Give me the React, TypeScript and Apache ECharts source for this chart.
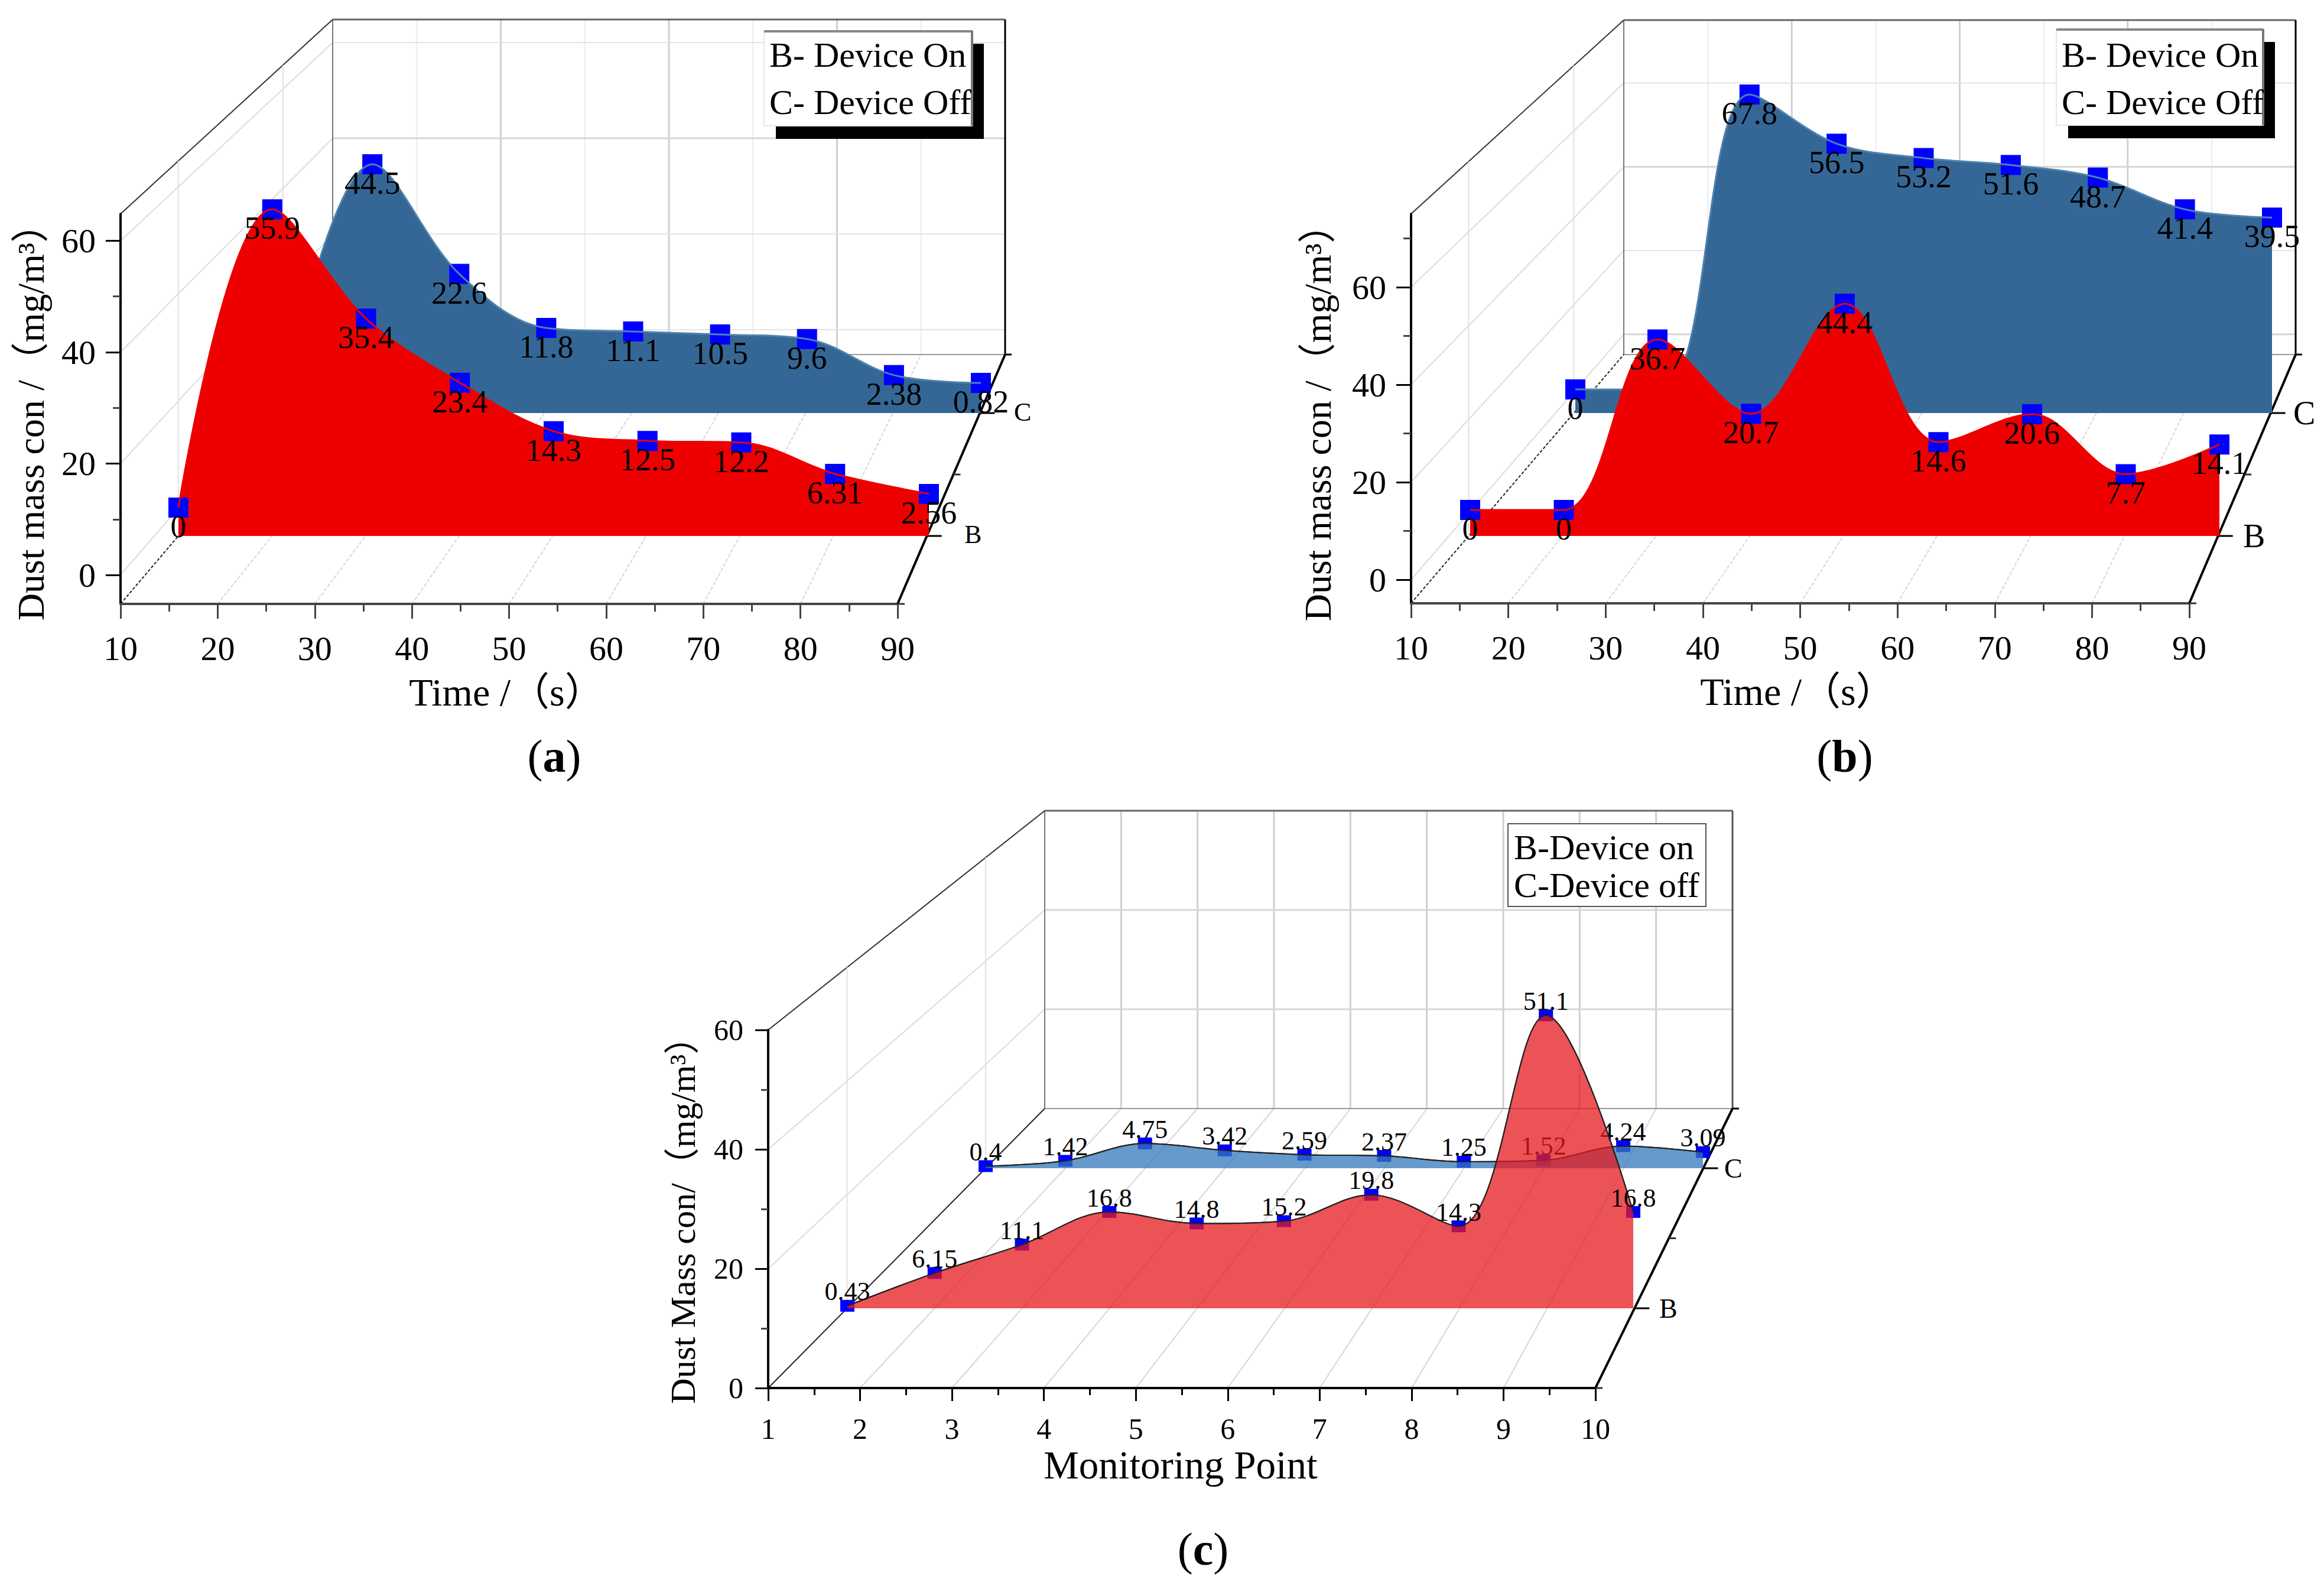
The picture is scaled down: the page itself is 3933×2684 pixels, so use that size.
import React, { useEffect, useRef } from "react";
import * as echarts from "echarts";

const TIME = [10, 20, 30, 40, 50, 60, 70, 80, 90];
const POINTS = [1, 2, 3, 4, 5, 6, 7, 8, 9, 10];
const A_ON = [0, 55.9, 35.4, 23.4, 14.3, 12.5, 12.2, 6.31, 2.56];
const A_OFF = [0, 44.5, 22.6, 11.8, 11.1, 10.5, 9.6, 2.38, 0.82];
const B_ON = [0, 0, 36.7, 20.7, 44.4, 14.6, 20.6, 7.7, 14.1];
const B_OFF = [0, 0, 67.8, 56.5, 53.2, 51.6, 48.7, 41.4, 39.5];
const C_ON = [0.43, 6.15, 11.1, 16.8, 14.8, 15.2, 19.8, 14.3, 51.1, 16.8];
const C_OFF = [0.4, 1.42, 4.75, 3.42, 2.59, 2.37, 1.25, 1.52, 4.24, 3.09];
const DEPTH_LABELS = ["B", "C"];
const FONT = '"Liberation Serif", "Noto Sans CJK SC", serif';

type Plane = { left: number; right: number; base: number; zero: number; unit: number };
type Panel = {
  xs: number[]; on: number[]; off: number[]; hiddenOff: number[];
  xMin: number; xMax: number; xStep: number;
  front: { left: number; right: number; bottom: number; top: number; zero: number; unit: number };
  back: { left: number; right: number; bottom: number; top: number };
  planeB: Plane; planeC: Plane;
  majors: number[]; minors: number[]; strongX: number[]; strongY: number[];
  yName: string; xName: string; yNameGap: number; xNameGap: number; yPad: number; xPad: number;
  labelFont: number; nameFont: number; xNameFont: number; valueFont: number; valueOffset: number; marker: number[];
  onColor: string; offColor: string; lineOn: string; lineOff: string; symbolsUnder: boolean;
  legend: { x: number; y: number; w: number; h: number; shadow: boolean; lines: string[]; tx: number; ty: number[]; };
  caption: { x: number; y: number; letter: string };
  depthFont: number; depthText: number[][]; axisColor: string; tickLong: number; tickShort: number; yMargin: number; xMargin: number;
};

const PANELS: Panel[] = [
  {
    xs: TIME, on: A_ON, off: A_OFF, hiddenOff: [0], xMin: 10, xMax: 90, xStep: 10,
    front: { left: 204, right: 1519, bottom: 1022, top: 362, zero: 973, unit: 9.425 },
    back: { left: 563, right: 1701, bottom: 600, top: 33 },
    planeB: { left: 302, right: 1572, base: 907, zero: 859, unit: 9.03 },
    planeC: { left: 483, right: 1660, base: 699, zero: 655, unit: 8.47 },
    majors: [0, 20, 40, 60], minors: [10, 30, 50], strongX: [30, 50, 70], strongY: [40],
    yName: "Dust mass con /（mg/m³）", xName: "Time /（s）", yNameGap: 120, xNameGap: 116, yPad: 13, xPad: 9,
    labelFont: 58, nameFont: 64, xNameFont: 66, valueFont: 54, valueOffset: 32, marker: [34, 34],
    onColor: "#ee0000", offColor: "#356796", lineOn: "#ee0000", lineOff: "#4f82ad", symbolsUnder: false,
    legend: { x: 1293, y: 52, w: 352, h: 161, shadow: true, lines: ["B- Device On", "C- Device Off"], tx: 1302, ty: [93, 173] },
    caption: { x: 938, y: 1279, letter: "a" },
    depthFont: 44, depthText: [[1632, 904], [1716, 697]], axisColor: "#444", tickLong: 25, tickShort: 13, yMargin: 42, xMargin: 46,
  },
  {
    xs: TIME, on: B_ON, off: B_OFF, hiddenOff: [1], xMin: 10, xMax: 90, xStep: 10,
    front: { left: 2388, right: 3705, bottom: 1021, top: 362, zero: 981, unit: 8.25 },
    back: { left: 2748, right: 3885, bottom: 600, top: 34 },
    planeB: { left: 2488, right: 3756, base: 907, zero: 863, unit: 7.86 },
    planeC: { left: 2666, right: 3845, base: 699, zero: 659, unit: 7.36 },
    majors: [0, 20, 40, 60], minors: [10, 30, 50, 70], strongX: [30, 50, 70], strongY: [0, 40],
    yName: "Dust mass con /（mg/m³）", xName: "Time /（s）", yNameGap: 126, xNameGap: 116, yPad: 16, xPad: 9,
    labelFont: 58, nameFont: 64, xNameFont: 66, valueFont: 54, valueOffset: 32, marker: [34, 34],
    onColor: "#ee0000", offColor: "#356796", lineOn: "#ee0000", lineOff: "#4f82ad", symbolsUnder: false,
    legend: { x: 3480, y: 49, w: 350, h: 163, shadow: true, lines: ["B- Device On", "C- Device Off"], tx: 3489, ty: [93, 173] },
    caption: { x: 3122, y: 1279, letter: "b" },
    depthFont: 56, depthText: [[3796, 907], [3881, 699]], axisColor: "#444", tickLong: 25, tickShort: 13, yMargin: 42, xMargin: 46,
  },
  {
    xs: POINTS, on: C_ON, off: C_OFF, hiddenOff: [], xMin: 1, xMax: 10, xStep: 1,
    front: { left: 1300, right: 2700, bottom: 2349, top: 1743, zero: 2349, unit: 10.1 },
    back: { left: 1768, right: 2932, bottom: 1876, top: 1372 },
    planeB: { left: 1434, right: 2764, base: 2214, zero: 2214, unit: 9.7 },
    planeC: { left: 1668, right: 2882, base: 1977, zero: 1977, unit: 8.83 },
    majors: [0, 20, 40, 60], minors: [10, 30, 50], strongX: [], strongY: [],
    yName: "Dust Mass con/（mg/m³）", xName: "Monitoring Point", yNameGap: 114, xNameGap: 96, yPad: 8, xPad: 4,
    labelFont: 50, nameFont: 60, xNameFont: 67, valueFont: 44, valueOffset: -24, marker: [24, 20],
    onColor: "rgba(230,25,30,0.75)", offColor: "rgba(51,119,187,0.75)", lineOn: "#222", lineOff: "#222", symbolsUnder: true,
    legend: { x: 2552, y: 1394, w: 335, h: 140, shadow: false, lines: ["B-Device on", "C-Device off"], tx: 2562, ty: [1434, 1498] },
    caption: { x: 2036, y: 2621, letter: "c" },
    depthFont: 46, depthText: [[2808, 2214], [2918, 1977]], axisColor: "#000", tickLong: 22, tickShort: 12, yMargin: 42, xMargin: 44,
  },
];

function buildOption() {
  const grid: any[] = [], xAxis: any[] = [], yAxis: any[] = [], series: any[] = [], elements: any[] = [];
  const line = (x1: number, y1: number, x2: number, y2: number, stroke: string, lineWidth: number, z = 0, lineDash?: number[]) =>
    elements.push({ type: "line", silent: true, z, shape: { x1, y1, x2, y2 }, style: { stroke, lineWidth, lineDash } });
  const text = (x: number, y: number, t: string, fontSize: number, z = 1, textAlign = "left", fill = "#000") =>
    elements.push({ type: "text", silent: true, z, x, y, style: { text: t, fontSize, fontFamily: FONT, fill, textAlign, textVerticalAlign: "middle" } });

  PANELS.forEach((p) => {
    const f = p.front, b = p.back;
    const yMin = (f.zero - f.bottom) / f.unit;
    const yMax = (f.zero - f.top) / f.unit;
    const g = grid.length;
    grid.push({ left: f.left, top: f.top, width: f.right - f.left, height: f.bottom - f.top });
    xAxis.push({
      type: "value", gridIndex: g, min: p.xMin, max: p.xMax, interval: p.xStep, position: "bottom", splitLine: { show: false },
      name: p.xName, nameLocation: "middle", nameGap: p.xNameGap,
      nameTextStyle: { fontFamily: FONT, fontSize: p.xNameFont, color: "#000", padding: [0, p.xPad, 0, 0] },
      axisLine: { show: true, onZero: false, lineStyle: { color: p.axisColor, width: 4 } },
      axisTick: { show: true, inside: false, length: p.tickLong, lineStyle: { color: p.axisColor, width: 3 } },
      minorTick: { show: true, splitNumber: 2, length: p.tickShort, lineStyle: { color: p.axisColor, width: 3 } },
      axisLabel: { show: true, fontFamily: FONT, fontSize: p.labelFont, color: "#000", margin: p.xMargin, hideOverlap: false },
    });
    const yi = yAxis.length;
    yAxis.push({
      type: "value", gridIndex: g, min: yMin, max: yMax, position: "left", splitLine: { show: false },
      name: p.yName, nameLocation: "middle", nameGap: p.yNameGap, nameRotate: 90,
      nameTextStyle: { fontFamily: FONT, fontSize: p.nameFont, color: "#000", padding: [0, p.yPad, 0, 0] },
      axisLine: { show: true, onZero: false, lineStyle: { color: "#000", width: 4 } },
      axisTick: { show: true, length: p.tickLong, customValues: p.majors, lineStyle: { color: "#000", width: 3 } },
      axisLabel: { show: true, customValues: p.majors, fontFamily: FONT, fontSize: p.labelFont, color: "#000", margin: p.yMargin, showMinLabel: true, showMaxLabel: true },
    });
    yAxis.push({
      type: "value", gridIndex: g, min: yMin, max: yMax, position: "left", splitLine: { show: false },
      axisLine: { show: false, onZero: false },
      axisTick: { show: true, length: p.tickShort, customValues: p.minors, lineStyle: { color: "#444", width: 3 } },
      axisLabel: { show: false },
    });
    series.push({ type: "line", xAxisIndex: xAxis.length - 1, yAxisIndex: yi, data: [], silent: true });

    const bx = (v: number) => b.left + ((v - p.xMin) / (p.xMax - p.xMin)) * (b.right - b.left);
    const by = (v: number) => b.bottom - ((v - yMin) / (yMax - yMin)) * (b.bottom - b.top);
    const fx = (v: number) => f.left + ((v - p.xMin) / (p.xMax - p.xMin)) * (f.right - f.left);
    const fy = (v: number) => f.bottom - ((v - yMin) / (yMax - yMin)) * (f.bottom - f.top);
    const faint = p.symbolsUnder ? "#d4d4d4" : "#ececec";
    for (let v = p.xMin + p.xStep; v < p.xMax; v += p.xStep) {
      const strong = p.symbolsUnder || p.strongX.includes(v);
      line(bx(v), b.top, bx(v), b.bottom, strong ? "#cfcfcf" : faint, strong ? 3 : 2);
      line(fx(v), f.bottom, bx(v), b.bottom, "#d6d6d6", 2, 0, p.symbolsUnder ? undefined : [6, 3]);
    }
    p.majors.forEach((v) => {
      if (v <= yMin || v > yMax) return;
      const strong = p.symbolsUnder || p.strongY.includes(v);
      if (by(v) > b.top + 2) line(b.left, by(v), b.right, by(v), strong ? "#d6d6d6" : "#e4e4e4", strong ? 3 : 2);
      if (v !== 0 || yMin < 0) line(f.left, fy(v), b.left, by(v), "#dcdcdc", 2);
    });
    line(b.left, b.top, b.right, b.top, "#666", 3);
    line(b.left, b.bottom, b.right, b.bottom, "#999", 2);
    line(b.left, b.top, b.left, b.bottom, "#777", 2);
    line(b.right, b.top, b.right, b.bottom, p.symbolsUnder ? "#555" : "#000", 3);
    line(f.left, f.top, b.left, b.top, "#333", 2);
    line(f.left, f.bottom, b.left, b.bottom, "#222", 2, 0, p.symbolsUnder ? undefined : [5, 3]);

    const frac = (pl: Plane) => (f.bottom - pl.base) / (f.bottom - b.bottom);
    line(f.right, f.bottom, b.right, b.bottom, "#000", 4, 1);
    const edge = (t: number) => f.right + t * (b.right - f.right);
    [p.planeB, p.planeC].forEach((pl) => {
      const t = frac(pl);
      line(edge(t), pl.base, edge(t) + 25, pl.base, "#000", 3, 1);
      const topY = f.top + t * (b.top - f.top);
      line(f.left + t * (b.left - f.left), f.bottom + t * (b.bottom - f.bottom), f.left + t * (b.left - f.left), topY, "#e2e2e2", 2);
    });
    const mid = (frac(p.planeB) + frac(p.planeC)) / 2;
    line(edge(mid), f.bottom + mid * (b.bottom - f.bottom), edge(mid) + 12, f.bottom + mid * (b.bottom - f.bottom), "#333", 3, 1);
    line(b.right, b.bottom, b.right + 11, b.bottom, "#000", 3, 1);
    line(f.right, f.bottom, f.right + 12, f.bottom, "#333", 3, 1);
    DEPTH_LABELS.forEach((t, i) => text(p.depthText[i][0], p.depthText[i][1], t, p.depthFont, 1));

    const addPlane = (pl: Plane, vals: number[], color: string, lineColor: string, hidden: number[], z: number) => {
      const gi = grid.length;
      const min = (pl.zero - pl.base) / pl.unit;
      const max = yMax + 3;
      const h = (max - min) * pl.unit;
      grid.push({ left: pl.left, top: pl.base - h, width: pl.right - pl.left, height: h });
      xAxis.push({ type: "value", gridIndex: gi, show: false, min: p.xMin, max: p.xMax, interval: p.xStep, splitLine: { show: false } });
      const yIdx = yAxis.length;
      yAxis.push({ type: "value", gridIndex: gi, show: false, min, max, splitLine: { show: false } });
      const xIdx = xAxis.length - 1;
      const pts = p.xs.map((x, i) => [x, vals[i]]);
      const labelled = p.xs.map((x, i) => ({ value: [x, vals[i]], label: { show: !hidden.includes(i) } }));
      const base = { type: "line", xAxisIndex: xIdx, yAxisIndex: yIdx, clip: false, silent: true, smooth: 0.35 };
      const label = {
        show: true, position: "inside", offset: [0, p.valueOffset], fontFamily: FONT, fontSize: p.valueFont, color: "#000",
        formatter: (q: any) => String(q.value[1]),
      };
      const markers = {
        ...base, z: p.symbolsUnder ? z : z + 1, data: pts, symbol: "rect", symbolSize: p.marker, showSymbol: true,
        lineStyle: { width: 0, opacity: 0 }, itemStyle: { color: "#0000ff", opacity: 1 },
      };
      const area = {
        ...base, z: p.symbolsUnder ? z + 1 : z, data: pts, showSymbol: false, symbol: "none",
        lineStyle: { color: lineColor, width: p.symbolsUnder ? 2 : 0 }, areaStyle: { color, origin: "start", opacity: 1 },
      };
      const top = {
        ...base, z: z + 2, data: labelled, symbol: "circle", symbolSize: 1, showSymbol: true,
        lineStyle: { color: lineColor, width: p.symbolsUnder ? 2 : 3 }, itemStyle: { color: "rgba(0,0,0,0)", opacity: 1 }, label,
      };
      series.push(markers, area, top);
    };
    addPlane(p.planeC, p.off, p.offColor, p.lineOff, p.hiddenOff, 2);
    addPlane(p.planeB, p.on, p.onColor, p.lineOn, [], 6);

    const L = p.legend;
    if (L.shadow) {
      elements.push({ type: "rect", silent: true, z: 20, shape: { x: L.x + 20, y: L.y + 22, width: L.w, height: L.h }, style: { fill: "#000" } });
      elements.push({ type: "rect", silent: true, z: 21, shape: { x: L.x, y: L.y, width: L.w, height: L.h }, style: { fill: "#fff", stroke: "#e8e8e8", lineWidth: 2 } });
      line(L.x, L.y + 1, L.x + L.w, L.y + 1, "#888", 4, 22);
      line(L.x + L.w, L.y, L.x + L.w, L.y + L.h, "#777", 4, 22);
    } else {
      elements.push({ type: "rect", silent: true, z: 21, shape: { x: L.x, y: L.y, width: L.w, height: L.h }, style: { fill: "#fff", stroke: "#555", lineWidth: 2 } });
    }
    L.lines.forEach((t, i) => text(L.tx, L.ty[i], t, 60, 23));

    elements.push({
      type: "text", silent: true, z: 1, x: p.caption.x, y: p.caption.y,
      style: {
        text: `{n|(}{b|${p.caption.letter}}{n|)}`, textAlign: "center", textVerticalAlign: "middle", fill: "#000",
        rich: { n: { fontFamily: FONT, fontSize: 78, fill: "#000" }, b: { fontFamily: FONT, fontSize: 78, fontWeight: "bold", fill: "#000" } },
      },
    });
  });
  return { animation: false, backgroundColor: "#fff", grid, xAxis, yAxis, series, graphic: { elements } };
}

export default function App() {
  const ref = useRef<HTMLDivElement>(null);
  useEffect(() => {
    document.body.style.margin = "0";
    const chart = echarts.init(ref.current!, undefined, { renderer: "svg" });
    chart.setOption(buildOption() as any);
    return () => chart.dispose();
  }, []);
  return <div ref={ref} style={{ width: 3933, height: 2684 }} />;
}
